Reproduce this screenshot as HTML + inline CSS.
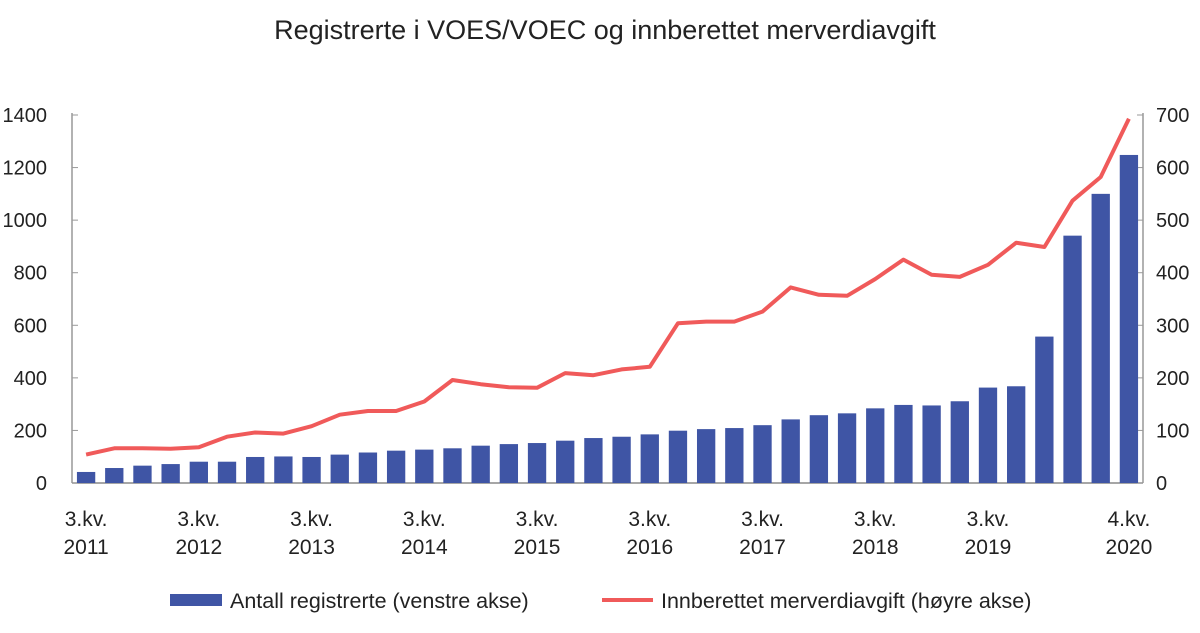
<!DOCTYPE html>
<html><head><meta charset="utf-8">
<style>
body{margin:0;background:#fff;font-family:"Liberation Sans",sans-serif;}
svg text{font-family:"Liberation Sans",sans-serif;fill:#222;}
</style></head>
<body>
<svg id="chart" width="1200" height="628" xmlns="http://www.w3.org/2000/svg">
<text x="605" y="39" font-size="27" text-anchor="middle">Registrerte i VOES/VOEC og innberettet merverdiavgift</text>
<g id="axes"></g>
<g id="bars"></g>
<g id="line"></g>
<g>
<rect x="170" y="594" width="52" height="12" fill="#3F55A5"/>
<text x="230" y="608" font-size="21.5">Antall registrerte (venstre akse)</text>
<line x1="602" y1="600" x2="653" y2="600" stroke="#F05A5A" stroke-width="4"/>
<text x="661" y="608" font-size="21.5">Innberettet merverdiavgift (høyre akse)</text>
</g>
</svg>
<script>
const registered=[42,57,66,72,81,81,99,101,99,108,116,123,127,132,142,148,152,161,171,176,185,199,205,209,220,242,258,265,284,297,295,311,363,368,557,941,1100,1248];
const vat=[54,66,66,65,68,88,96,94,108,130,137,137,155,196,188,182,181,209,205,216,221,304,307,307,326,372,358,356,388,425,396,392,415,457,449,537,582,693];
const leftTicks=[0,200,400,600,800,1000,1200,1400];
const rightTicks=[0,100,200,300,400,500,600,700];
const xLabelIdx=[0,4,8,12,16,20,24,28,32,37];
const xLabelTop=["3.kv.","3.kv.","3.kv.","3.kv.","3.kv.","3.kv.","3.kv.","3.kv.","3.kv.","4.kv."];
const xLabelYear=["2011","2012","2013","2014","2015","2016","2017","2018","2019","2020"];

const NS="http://www.w3.org/2000/svg";
const x0=72,x1=1143,yBase=483,yTop=115;
const n=registered.length;
const step=(x1-x0)/n;
function xC(i){return x0+step*(i+0.5);}
function yL(v){return yBase-(v/1400)*(yBase-yTop);}
function yR(v){return yBase-(v/700)*(yBase-yTop);}
function mk(tag,attrs,parent){const e=document.createElementNS(NS,tag);for(const k in attrs)e.setAttribute(k,attrs[k]);parent.appendChild(e);return e;}

const axes=document.getElementById('axes');
let a=mk('line',{x1:x0,y1:yTop-2,x2:x0,y2:yBase,stroke:'#999','stroke-width':1.5},axes);


a=mk('line',{x1:x1,y1:yTop-2,x2:x1,y2:yBase,stroke:'#999','stroke-width':1.5},axes);


a=mk('line',{x1:x0,y1:yBase,x2:x1,y2:yBase,stroke:'#888','stroke-width':1.5},axes);


leftTicks.forEach(v=>{
  const y=yL(v);
  mk('line',{x1:x0,y1:y,x2:x0+6,y2:y,stroke:'#999'},axes);
  const t=mk('text',{x:47,y:y+7,'font-size':20,'text-anchor':'end'},axes);
  t.textContent=v;
  
  
});
rightTicks.forEach(v=>{
  const y=yR(v);
  mk('line',{x1:x1-6,y1:y,x2:x1,y2:y,stroke:'#999'},axes);
  const t=mk('text',{x:1156,y:y+7,'font-size':20,'text-anchor':'start'},axes);
  t.textContent=v;
  
  
});
xLabelIdx.forEach((idx,j)=>{
  const t=mk('text',{x:xC(idx),y:526,'font-size':21,'text-anchor':'middle'},axes);
  t.textContent=xLabelTop[j];
  
  
  const t2=mk('text',{x:xC(idx),y:554,'font-size':21,'text-anchor':'middle'},axes);
  t2.textContent=xLabelYear[j];
  
  
});
const bars=document.getElementById('bars');
const bw=step*0.65;
registered.forEach((v,i)=>{
  const r=mk('rect',{x:xC(i)-bw/2,y:yL(v),width:bw,height:yBase-yL(v),fill:'#3F55A5'},bars);
  
  
});
const pts=vat.map((v,i)=>xC(i).toFixed(1)+','+yR(v).toFixed(1)).join(' ');
const pl=mk('polyline',{points:pts,fill:'none',stroke:'#F05A5A','stroke-width':4,'stroke-linejoin':'round'},document.getElementById('line'));


</script>
</body></html>
